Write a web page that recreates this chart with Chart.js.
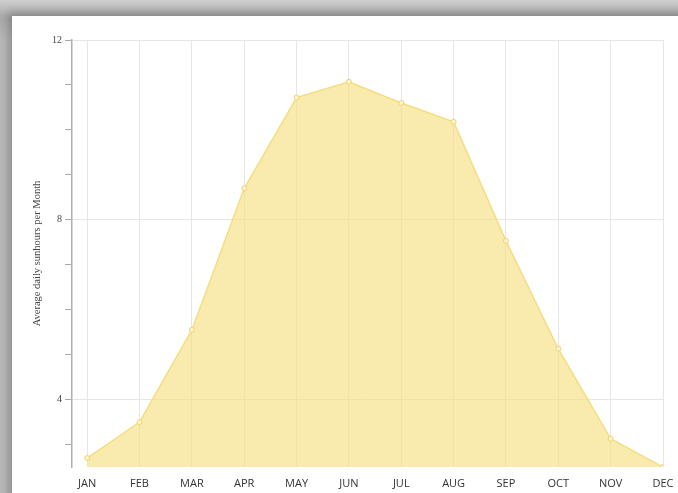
<!DOCTYPE html>
<html>
<head>
<meta charset="utf-8">
<script src="https://cdn.jsdelivr.net/npm/chart.js@4.4.1/dist/chart.umd.min.js"></script>
<style>
  html, body { margin: 0; padding: 0; }
  body {
    width: 678px; height: 493px; overflow: hidden;
    background: linear-gradient(#cfcfcf, #a9a9a9 18px, #b8b8b8 40px);
    position: relative;
  }
  #card {
    position: absolute; left: 12px; top: 16px; width: 700px; height: 520px;
    background: #fff;
    box-shadow: -2px -2px 8px 2px rgba(0,0,0,0.22);
  }
  #wrap { position: absolute; left: 0; top: 0; width: 678px; height: 493px; }
</style>
</head>
<body>
<div id="card"></div>
<div id="wrap"><canvas id="chart"></canvas></div>
<script>
// --- Data ---
const months = ['JAN', 'FEB', 'MAR', 'APR', 'MAY', 'JUN', 'JUL', 'AUG', 'SEP', 'OCT', 'NOV', 'DEC'];
const sunHours = [2.7, 3.5, 5.55, 8.7, 10.72, 11.07, 10.6, 10.18, 7.53, 5.13, 3.13, 2.5];
const yLabelled = [4, 8, 12];

const points = sunHours.map((v, i) => ({ x: i, y: v }));

const ctx = document.getElementById('chart').getContext('2d');
new Chart(ctx, {
    type: 'line',
    data: {
        datasets: [{
            data: points,
            fill: 'start',
            backgroundColor: 'rgba(246,222,125,0.62)',
            borderColor: 'rgba(244,220,125,0.95)',
            borderWidth: 1.5,
            pointRadius: 2.5,
            pointBackgroundColor: '#fbf3d2',
            pointBorderColor: 'rgba(240,212,110,1)',
            pointBorderWidth: 1,
            tension: 0
        }]
    },
    options: {
        responsive: true,
        maintainAspectRatio: false,
        animation: false,
        layout: { padding: { left: 31, top: 40, right: 15, bottom: 0 } },
        plugins: { legend: { display: false }, tooltip: { enabled: false } },
        scales: {
            x: {
                type: 'linear',
                min: -0.29,
                max: 11,
                afterBuildTicks: (axis) => {
                    axis.ticks = months.map((m, i) => ({ value: i }));
                },
                afterFit: (axis) => {
                    axis.height = 26;
                    axis.paddingLeft = 0;
                    axis.paddingRight = 0;
                },
                border: { display: false },
                grid: { color: '#e6e6ea', lineWidth: 1, drawTicks: false },
                ticks: {
                    padding: 10,
                    color: '#333',
                    font: { family: 'Open Sans', size: 11 },
                    maxRotation: 0,
                    autoSkip: false,
                    callback: (v) => months[v] || ''
                }
            },
            y: {
                min: 2.5,
                max: 12,
                afterBuildTicks: (axis) => {
                    const t = [];
                    for (let v = 3; v <= 12; v++) t.push({ value: v });
                    axis.ticks = t;
                },
                afterFit: (axis) => { axis.width = 41; },
                border: { color: '#b0b0b0', width: 1.5 },
                grid: {
                    color: (c) => yLabelled.includes(c.tick && c.tick.value) ? '#e6e6e6' : 'rgba(0,0,0,0)',
                    tickColor: '#aaa',
                    tickLength: 7
                },
                ticks: {
                    padding: 3,
                    color: '#444',
                    font: { family: 'Liberation Serif', size: 10 },
                    callback: (v) => yLabelled.includes(v) ? String(v) : ''
                },
                title: {
                    display: true,
                    text: 'Average daily sunhours per Month',
                    color: '#444',
                    font: { family: 'Liberation Serif', size: 10.5 },
                    padding: { top: 0, bottom: 0 }
                }
            }
        }
    }
});
</script>
</body>
</html>
